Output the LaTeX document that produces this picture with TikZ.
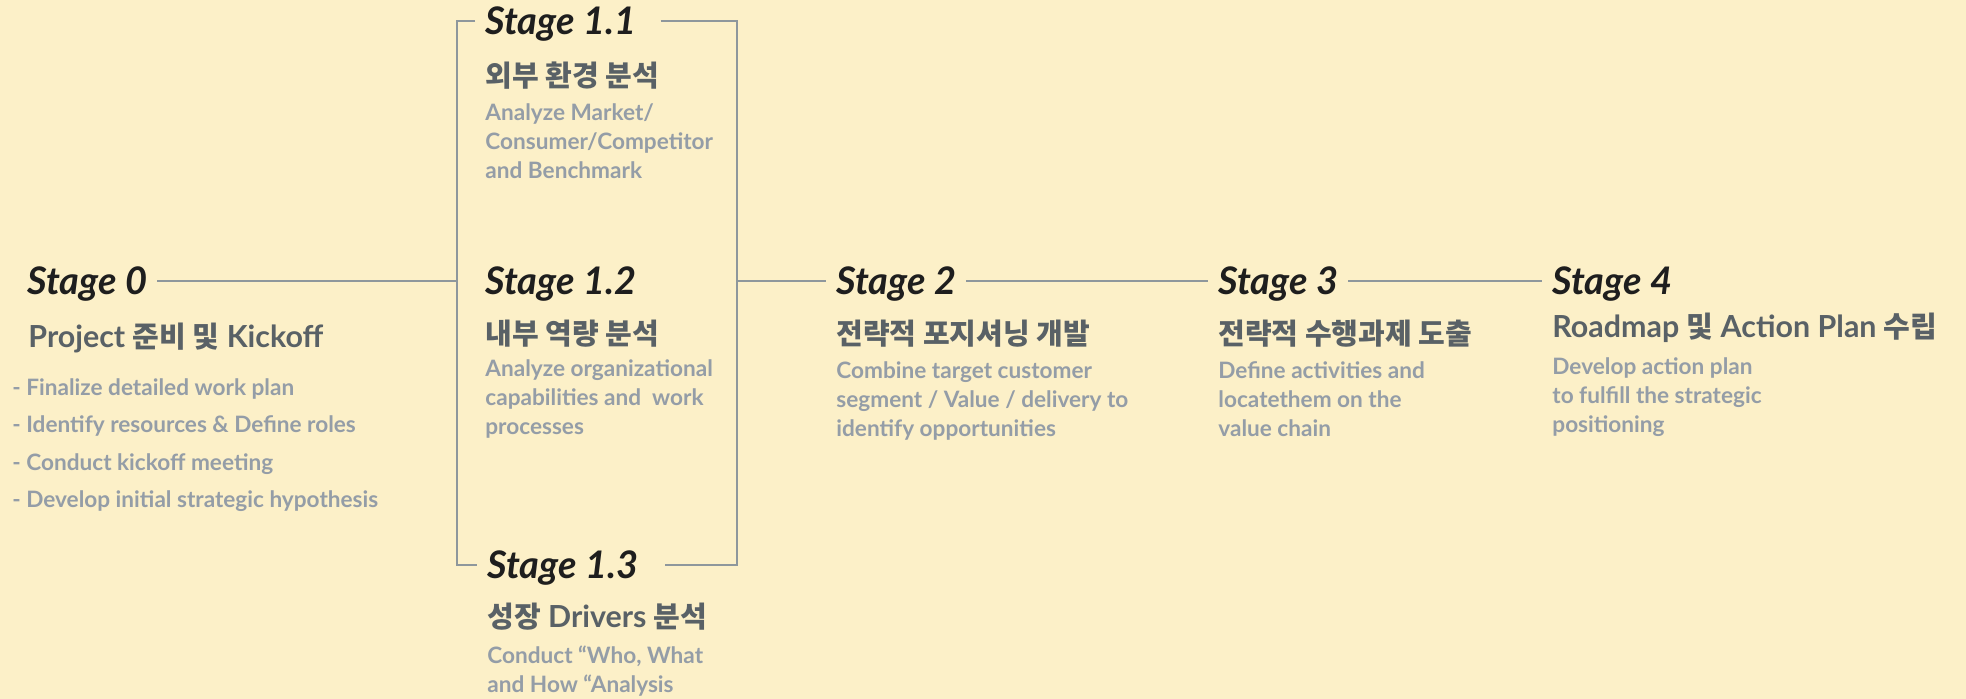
\documentclass[tikz,border=0pt]{standalone}
\usepackage{fontspec}
\setmainfont{Lato}
\newfontfamily\kr{Noto Sans CJK KR}[Scale=0.955]
\definecolor{paper}{HTML}{FCF0C8}
\definecolor{stageink}{HTML}{1E1E1E}
\definecolor{titleink}{HTML}{596166}
\definecolor{noteink}{HTML}{949DA7}
\definecolor{linkgray}{HTML}{8E979C}
\tikzset{
  stage/.style={anchor=west, font=\fontsize{19}{21}\selectfont\bfseries\itshape,
    text=stageink, text height=13.6pt, text depth=0pt, inner xsep=5pt, inner ysep=0pt},
  title/.style={anchor=base west, font=\fontsize{15.2}{18}\selectfont\bfseries,
    text=titleink, inner sep=0pt},
  note/.style={anchor=base west, align=left, font=\fontsize{11.3}{14.5}\selectfont\bfseries,
    text=noteink, inner sep=0pt},
  list/.style={note, font=\fontsize{11.3}{18.75}\selectfont\bfseries},
  link/.style={draw=linkgray, line width=0.6pt}
}
\begin{document}
\begin{tikzpicture}[x=0.5pt, y=-0.5pt]
    \useasboundingbox[fill=paper] (0,0) rectangle (1966,699);

    % bracket round stage 1
    \coordinate (tl) at (457,21);
    \coordinate (tr) at (737,21);
    \coordinate (bl) at (457,565);
    \coordinate (br) at (737,565);
    \coordinate (jl) at (457,281);
    \coordinate (jr) at (737,281);

    % stages (notes sit on the baseline of their last line)
    \node[stage] (s0) at (17,281) {Stage 0};
    \node[title] (t0) at (28,348) {Project {\kr 준비 및} Kickoff};
    \node[list] (d0) at (12,508) {- Finalize detailed work plan\\- Identify resources \& Define roles\\- Conduct kickoff meeting\\- Develop initial strategic hypothesis};

    \node[stage] (s11) at (475,21) {Stage 1.1};
    \node[title] (t11) at (485,87) {\kr 외부 환경 분석};
    \node[note] (d11) at (485,179) {Analyze Market/\\Consumer/Competitor\\and Benchmark};

    \node[stage] (s12) at (475,281) {Stage 1.2};
    \node[title] (t12) at (485,345) {\kr 내부 역량 분석};
    \node[note] (d12) at (485,435) {Analyze organizational\\capabilities and~ work\\processes};

    \node[stage] (s13) at (477,565) {Stage 1.3};
    \node[title] (t13) at (487,628) {{\kr 성장} Drivers {\kr 분석}};
    \node[note] (d13) at (487,693) {Conduct “Who, What\\and How “Analysis};

    \node[stage] (s2) at (826,281) {Stage 2};
    \node[title] (t2) at (836,345) {\kr 전략적 포지셔닝 개발};
    \node[note] (d2) at (836,437) {Combine target customer\\segment / Value / delivery to\\identify opportunities};

    \node[stage] (s3) at (1208,281) {Stage 3};
    \node[title] (t3) at (1218,345) {\kr 전략적 수행과제 도출};
    \node[note] (d3) at (1218,437) {Define activities and\\locatethem on the\\value chain};

    \node[stage] (s4) at (1542,281) {Stage 4};
    \node[title] (t4) at (1552,338) {Roadmap {\kr 및} Action Plan {\kr 수립}};
    \node[note] (d4) at (1552,433) {Develop action plan\\to fulfill the strategic\\positioning};

    % connectors
    \draw[link] (s0) -- (jl);
    \draw[link] (s11) -- (tl) -- (bl) -- (s13);
    \draw[link] ([xshift=7pt]s11.east) -- (tr) -- (br) -- ([xshift=8pt]s13.east);
    \draw[link] (jr) -- (s2);
    \draw[link] (s2) -- (s3);
    \draw[link] (s3) -- (s4);
\end{tikzpicture}
\end{document}
